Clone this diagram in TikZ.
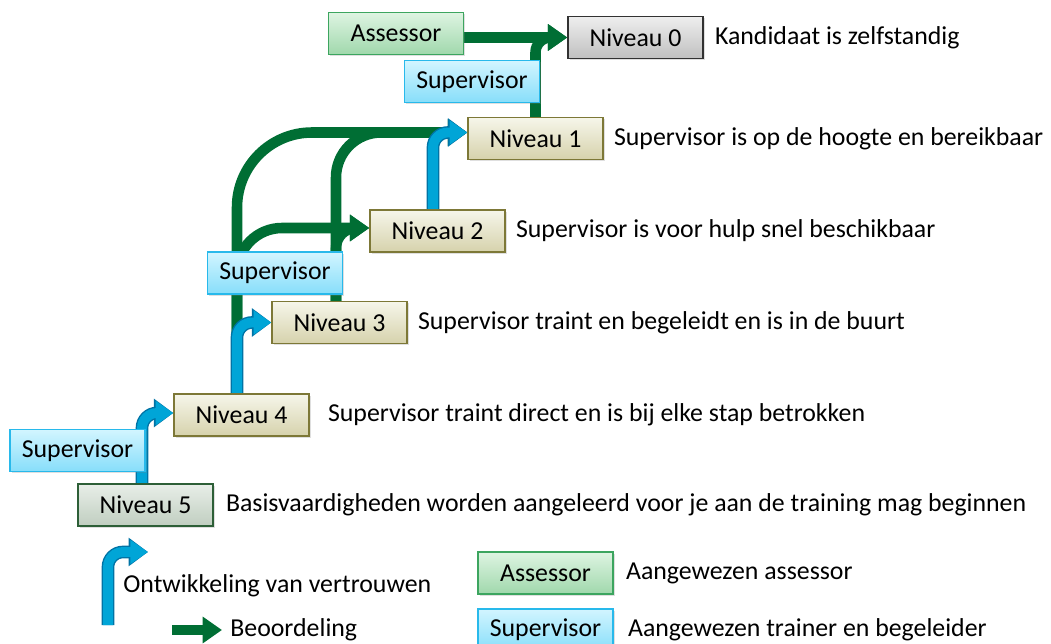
\documentclass[tikz,border=0pt]{standalone}
\usepackage{fontspec}
\setmainfont{Carlito}
\usetikzlibrary{arrows.meta,backgrounds,calc,positioning,shadows}

\definecolor{groen}{RGB}{0,110,52}
\definecolor{blauw}{RGB}{0,165,215}
\definecolor{blauwrand}{RGB}{0,115,165}
\definecolor{olijfrand}{RGB}{125,120,55}
\definecolor{olijfboven}{RGB}{246,246,234}
\definecolor{olijfonder}{RGB}{214,210,172}
\definecolor{grijsrand}{RGB}{50,50,50}
\definecolor{grijsboven}{RGB}{238,238,238}
\definecolor{grijsonder}{RGB}{192,192,192}
\definecolor{vijfrand}{RGB}{45,95,55}
\definecolor{vijfboven}{RGB}{232,238,232}
\definecolor{vijfonder}{RGB}{192,206,192}
\definecolor{assrand}{RGB}{60,165,95}
\definecolor{assboven}{RGB}{222,244,226}
\definecolor{assonder}{RGB}{160,216,172}
\definecolor{suprand}{RGB}{40,185,235}
\definecolor{supboven}{RGB}{210,245,255}
\definecolor{suponder}{RGB}{135,222,250}

\tikzset{
    box/.style={rectangle, line width=0.8pt, minimum width=2.7cm, minimum height=0.84cm, inner sep=0pt,
        font=\fontsize{14.7}{17}\selectfont,
        drop shadow={opacity=0.25, shadow xshift=1pt, shadow yshift=-1pt}},
    niveau/.style={box, draw=olijfrand, top color=olijfboven, bottom color=olijfonder},
    topniveau/.style={box, draw=grijsrand, top color=grijsboven, bottom color=grijsonder},
    startniveau/.style={box, draw=vijfrand, top color=vijfboven, bottom color=vijfonder},
    assessor/.style={box, draw=assrand, top color=assboven, bottom color=assonder},
    supervisor/.style={box, draw=suprand, top color=supboven, bottom color=suponder},
    uitleg/.style={inner sep=0pt, font=\fontsize{14.7}{17}\selectfont},
    groei/.style={draw=blauw, line width=5.6pt, -{Triangle[length=10pt,width=13pt]},
        preaction={draw=blauwrand, line width=7.2pt, -{Triangle[length=11pt,width=15.5pt]}}},
    oordeel/.style={draw=groen, line width=6pt, -{Triangle[length=11pt,width=14.5pt]}},
}

\begin{document}
\begin{tikzpicture}[x=0.02cm, y=-0.02cm]
    \useasboundingbox (0,0) rectangle (1051,644);

    % niveaus
    \node[topniveau] (n0) at (635.5,37.5) {Niveau 0};
    \begin{scope}[every node/.style={niveau}]
        \node (n1) at (535.5,138.5) {Niveau 1};
        \node (n2) at (437.5,231) {Niveau 2};
        \node (n3) at (339.5,322.5) {Niveau 3};
        \node (n4) at (241.5,415) {Niveau 4};
    \end{scope}
    \node[startniveau] (n5) at (145.5,505) {Niveau 5};

    % rollen
    \node[assessor] (a0) at (396,33.5) {Assessor};
    \begin{scope}[every node/.style={supervisor}]
        \node (s1) at (472,81.5) {Supervisor};
        \node (s3) at (275,273) {Supervisor};
        \node (s5) at (77.5,450.5) {Supervisor};
    \end{scope}

    % uitleg
    \begin{scope}[every node/.style={uitleg}]
        \node[right=0.22cm of n0] (u0) {Kandidaat is zelfstandig};
        \node[right=0.2cm of n1] (u1) {Supervisor is op de hoogte en bereikbaar};
        \node[right=0.2cm of n2] (u2) {Supervisor is voor hulp snel beschikbaar};
        \node[right=0.2cm of n3] (u3) {Supervisor traint en begeleidt en is in de buurt};
        \node[right=0.36cm of n4] (u4) {Supervisor traint direct en is bij elke stap betrokken};
        \node[right=0.24cm of n5] (u5) {Basisvaardigheden worden aangeleerd voor je aan de training mag beginnen};
    \end{scope}

    % legenda
    \node[assessor] (la) at (545.5,573) {Assessor};
    \node[supervisor] (ls) at (545.5,630) {Supervisor};
    \begin{scope}[every node/.style={uitleg}]
        \node[right=0.24cm of la] (ula) {Aangewezen assessor};
        \node[right=0.28cm of ls] (uls) {Aangewezen trainer en begeleider};
        \node[anchor=west] (ugroei) at (123,586) {Ontwikkeling van vertrouwen};
    \end{scope}
    \coordinate (g1) at (108,625);
    \coordinate (g2) at (148,552);
    \coordinate (o1) at (172,630);
    \coordinate (o2) at (222,630);
    \node[uitleg, right=0.16cm of o2] (uoordeel) {Beoordeling};

    \begin{pgfonlayer}{background}
        % beoordeling
        \draw[oordeel, rounded corners=1.5cm] (n4.north -| 237,0) |- ($(n1.west)+(0,-6)$);
        \draw[oordeel, rounded corners=0.9cm] (n4.north -| 237,0) |- ($(n2.west)+(0,-3)$);
        \draw[oordeel, rounded corners=0.9cm] (n3.north -| 336,0) |- ($(n1.west)+(0,-6)$);
        \draw[oordeel, rounded corners=0.4cm] (n3.north -| 336,0) |- ($(n2.west)+(0,-3)$);
        \draw[oordeel, rounded corners=0.3cm] (n1.north) |- (n0.west);
        \draw[oordeel] (a0.east |- n0.west) -- (n0.west);
        \draw[oordeel] (o1) -- (o2);
        % ontwikkeling
        \draw[groei, rounded corners=0.3cm] (n5.north -| 142,0) |- ($(n4.west)+(0,-2)$);
        \draw[groei, rounded corners=0.3cm] (n4.north -| 237,0) |- (n3.west);
        \draw[groei, rounded corners=0.3cm] (n2.north -| 433,0) |- ($(n1.west)+(0,-6)$);
        \draw[groei, rounded corners=0.3cm] (g1) |- (g2);
    \end{pgfonlayer}
\end{tikzpicture}
\end{document}
